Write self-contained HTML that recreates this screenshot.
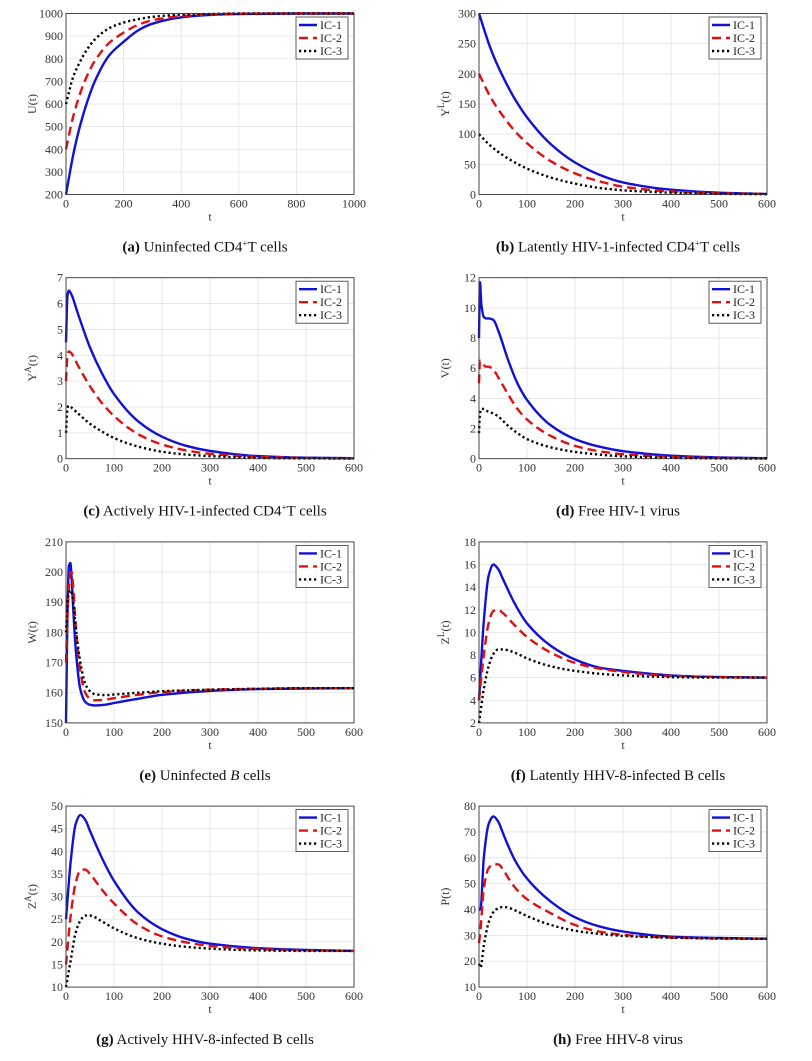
<!DOCTYPE html>
<html><head><meta charset="utf-8"><style>
body{margin:0;background:#fff;width:812px;height:1056px;overflow:hidden}
svg text{font-family:"Liberation Serif",serif}
</style></head><body>
<svg id="fig" width="812" height="1056" viewBox="0 0 812 1056" xmlns="http://www.w3.org/2000/svg"></svg>
<script>
// ---- data ----
const tA=[0,25,50,75,100,150,200,250,300,400,500,600,800,1000];
const a1=[200,375,510,615,700,815,875,925,955,983,994,998,1000,1000];
const a2=[400,545,650,730,790,870,915,950,970,988,996,999,1000,1000];
const a3=[600,720,790,845,885,935,960,975,985,995,998,1000,1000,1000];
const tB=[0,25,50,75,100,150,200,250,300,400,500,600];
const b1=[300,240,195,158,128,83,53,33,20,8,3,1];
const b2=[200,160,130,105,85,55,35,22,13,5,2,1];
const b3=[100,80,65,53,43,28,18,11,7,3,1,0.5];
const tC=[0,3,6,10,25,50,75,100,150,200,250,300,400,500,600];
const c1=[4.5,6.3,6.5,6.4,5.6,4.3,3.3,2.5,1.45,0.85,0.5,0.3,0.1,0.04,0.02];
const c2=[3,4.0,4.15,4.1,3.6,2.8,2.15,1.65,0.95,0.55,0.32,0.19,0.07,0.03,0.01];
const c3=[1,1.95,2.05,2.0,1.75,1.35,1.05,0.8,0.47,0.27,0.16,0.1,0.03,0.01,0.005];
const tD=[0,2,5,10,15,20,30,40,60,80,100,150,200,250,300,400,500,600];
const d1=[8,11.7,10.2,9.4,9.3,9.3,9.2,8.5,6.6,5.0,3.9,2.2,1.3,0.8,0.5,0.2,0.08,0.03];
const d2=[5,6.5,6.4,6.2,6.1,6.1,5.9,5.4,4.3,3.3,2.6,1.5,0.85,0.5,0.3,0.12,0.05,0.02];
const d3=[1.7,3.0,3.3,3.3,3.2,3.1,3.0,2.8,2.2,1.7,1.3,0.75,0.45,0.27,0.16,0.06,0.02,0.01];
const tE=[0,3,6,9,12,15,20,30,40,50,60,80,100,150,200,300,400,500,600];
const e1=[150,185,202,203,197,188,175,161,157,156,155.8,156,156.6,158,159.3,160.6,161.2,161.4,161.5];
const e2=[170,185,195,199,200,195,183,167,160,158,157.5,157.7,158.2,159.3,160.2,161,161.3,161.5,161.5];
const e3=[180,190,193,194,193,190,182,170,163,160.5,159.5,159.2,159.4,160,160.5,161,161.3,161.5,161.5];
const tF=[0,10,20,30,40,50,75,100,150,200,250,300,400,500,600];
const f1=[4,11,15,16,15.6,14.7,12.5,10.8,8.8,7.6,6.9,6.6,6.2,6.05,6];
const f2=[4,8,10.8,11.9,12,11.7,10.6,9.6,8.2,7.3,6.8,6.5,6.15,6.05,6];
const f3=[2,5,7,8.1,8.5,8.5,8.2,7.7,7.0,6.6,6.35,6.2,6.05,6,6];
const tG=[0,10,20,30,40,50,75,100,150,200,250,300,400,500,600];
const g1=[25,38,46,48,47,44.5,38.5,33.5,26.5,22.8,20.7,19.6,18.6,18.2,18];
const g2=[15,26,33,35.8,36,35,31.5,28.5,23.8,21.2,19.9,19.1,18.4,18.1,18];
const g3=[10,16,22,24.7,25.8,25.8,24.5,23,20.8,19.6,18.9,18.5,18.1,18,18];
const tH=[0,3,10,20,30,40,50,60,75,100,150,200,250,300,400,500,600];
const h1=[40,40,60,73,76,74,69.5,65,59,52,43,37,33.5,31.5,29.5,29,28.7];
const h2=[27,32,48,56,57.5,57.5,55.5,52.5,48.5,44,38.5,34,31.5,30.2,29.2,28.8,28.7];
const h3=[19,17.5,26,35,39,40.5,41,40.8,39.7,37.5,34,31.8,30.6,29.8,29.1,28.8,28.7];
const legendLabels=["IC-1","IC-2","IC-3"];

const panels=[
 {id:"a",t:tA,s:[a1,a2,a3],xmax:1000,xstep:200,ymin:200,ymax:1000,ystep:100,yl:"U(t)",sup:"",cap:'<tspan font-weight="bold">(a)</tspan> Uninfected CD4<tspan baseline-shift="super" font-size="9">+</tspan>T cells'},
 {id:"b",t:tB,s:[b1,b2,b3],xmax:600,xstep:100,ymin:0,ymax:300,ystep:50,yl:"Y",sup:"L",cap:'<tspan font-weight="bold">(b)</tspan> Latently HIV-1-infected CD4<tspan baseline-shift="super" font-size="9">+</tspan>T cells'},
 {id:"c",t:tC,s:[c1,c2,c3],xmax:600,xstep:100,ymin:0,ymax:7,ystep:1,yl:"Y",sup:"A",cap:'<tspan font-weight="bold">(c)</tspan> Actively HIV-1-infected CD4<tspan baseline-shift="super" font-size="9">+</tspan>T cells'},
 {id:"d",t:tD,s:[d1,d2,d3],xmax:600,xstep:100,ymin:0,ymax:12,ystep:2,yl:"V(t)",sup:"",cap:'<tspan font-weight="bold">(d)</tspan> Free HIV-1 virus'},
 {id:"e",t:tE,s:[e1,e2,e3],xmax:600,xstep:100,ymin:150,ymax:210,ystep:10,yl:"W(t)",sup:"",cap:'<tspan font-weight="bold">(e)</tspan> Uninfected <tspan font-style="italic">B</tspan> cells'},
 {id:"f",t:tF,s:[f1,f2,f3],xmax:600,xstep:100,ymin:2,ymax:18,ystep:2,yl:"Z",sup:"L",cap:'<tspan font-weight="bold">(f)</tspan> Latently HHV-8-infected B cells'},
 {id:"g",t:tG,s:[g1,g2,g3],xmax:600,xstep:100,ymin:10,ymax:50,ystep:5,yl:"Z",sup:"A",cap:'<tspan font-weight="bold">(g)</tspan> Actively HHV-8-infected B cells'},
 {id:"h",t:tH,s:[h1,h2,h3],xmax:600,xstep:100,ymin:10,ymax:80,ystep:10,yl:"P(t)",sup:"",cap:'<tspan font-weight="bold">(h)</tspan> Free HHV-8 virus'}
];
const colors=["#1010d8","#e01010","#000"];
const dashes=["","9,5","2.2,2.8"];
const svg=document.getElementById('fig');
const NS="http://www.w3.org/2000/svg";
function mk(tag,attrs,parent){const e=document.createElementNS(NS,tag);for(const k in attrs)e.setAttribute(k,attrs[k]);parent.appendChild(e);return e;}
// monotone cubic path (Fritsch-Carlson)
function monoPath(xs,ys){
 const n=xs.length,d=[],m=new Array(n);
 for(let i=0;i<n-1;i++)d.push((ys[i+1]-ys[i])/(xs[i+1]-xs[i]));
 m[0]=d[0];m[n-1]=d[n-2];
 for(let i=1;i<n-1;i++){
  if(d[i-1]*d[i]<=0)m[i]=0;
  else{const h0=xs[i]-xs[i-1],h1=xs[i+1]-xs[i];const w1=2*h1+h0,w2=h1+2*h0;m[i]=(w1+w2)/(w1/d[i-1]+w2/d[i]);}
 }
 let p=`M${xs[0].toFixed(1)},${ys[0].toFixed(1)}`;
 for(let i=0;i<n-1;i++){
  const h=(xs[i+1]-xs[i])/3;
  p+=` C${(xs[i]+h).toFixed(1)},${(ys[i]+m[i]*h).toFixed(1)} ${(xs[i+1]-h).toFixed(1)},${(ys[i+1]-m[i+1]*h).toFixed(1)} ${xs[i+1].toFixed(1)},${ys[i+1].toFixed(1)}`;
 }
 return p;
}

panels.forEach((p,i)=>{
 const col=i%2,row=Math.floor(i/2);
 const X0=col?479:66,W=288,Y0=13.5+row*264.2,H=181;
 const g=mk('g',{},svg);
 
 
 const xs=v=>X0+v/p.xmax*W, ys=v=>Y0+H-(v-p.ymin)/(p.ymax-p.ymin)*H;
 for(let v=0;v<=p.xmax+1e-9;v+=p.xstep){
  const x=xs(v);
  if(v>0&&v<p.xmax){const l=mk('line',{x1:x,x2:x,y1:Y0,y2:Y0+H,stroke:"#e2e2e2","stroke-width":0.8},g);}
  const t=mk('text',{x:x,y:Y0+H+13,"text-anchor":"middle","font-size":12,fill:"#333"},g);t.textContent=v;
  
 }
 for(let v=p.ymin;v<=p.ymax+1e-9;v+=p.ystep){
  const y=ys(v);
  if(v>p.ymin&&v<p.ymax){const l=mk('line',{x1:X0,x2:X0+W,y1:y,y2:y,stroke:"#e2e2e2","stroke-width":0.8},g);}
  const t=mk('text',{x:X0-3,y:y+4,"text-anchor":"end","font-size":12,fill:"#333"},g);t.textContent=v;
  
 }
 p.s.forEach((arr,k)=>{
  const px=p.t.map(xs), py=arr.map(ys);
  const pl=mk('path',{d:monoPath(px,py),fill:"none",stroke:colors[k],"stroke-width":2.4,"stroke-linejoin":"round"},g);
  if(dashes[k])pl.setAttribute('stroke-dasharray',dashes[k]);
  
  
 });
 const box=mk('rect',{x:X0,y:Y0,width:W,height:H,fill:"none",stroke:"#333","stroke-width":0.9},g);
 
 const lg=mk('g',{},g);
 
 const LX=X0+W-58,LY=Y0+3.5;
 mk('rect',{x:LX,y:LY,width:52,height:42,fill:"#fff",stroke:"#333","stroke-width":0.8},lg);
 legendLabels.forEach((lab,k)=>{
  const yy=LY+8+k*13;
  const ln=mk('line',{x1:LX+3,x2:LX+21,y1:yy,y2:yy,stroke:colors[k],"stroke-width":2.4},lg);
  if(dashes[k])ln.setAttribute('stroke-dasharray',dashes[k]);
  const t=mk('text',{x:LX+24,y:yy+4,"font-size":12,fill:"#222"},lg);t.textContent=lab;
  
 });
 const xt=mk('text',{x:X0+W/2,y:Y0+H+26,"text-anchor":"middle","font-size":12,fill:"#333"},g);xt.textContent='t';
 
 const yt=mk('text',{x:0,y:0,"text-anchor":"middle","font-size":12,fill:"#333",transform:`translate(${X0-30},${Y0+H/2}) rotate(-90)`},g);
 
 yt.innerHTML=p.sup?`${p.yl}<tspan baseline-shift="super" font-size="9">${p.sup}</tspan>(t)`:p.yl;
 const cp=mk('text',{x:X0+W/2-5,y:Y0+H+57,"text-anchor":"middle","font-size":15,fill:"#111"},g);
 cp.innerHTML=p.cap;
 
});
</script>
</body></html>
